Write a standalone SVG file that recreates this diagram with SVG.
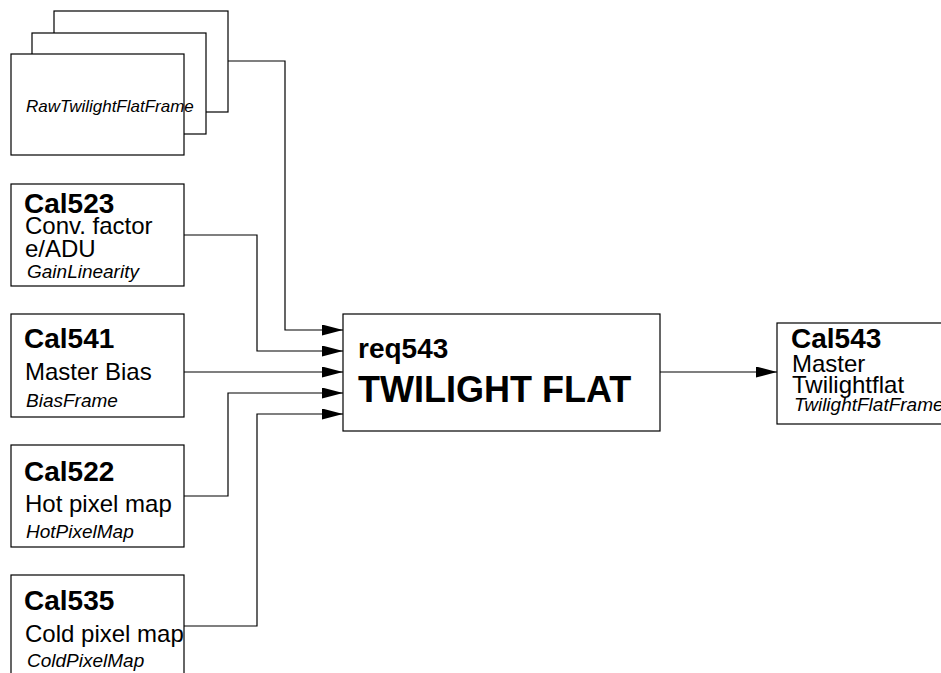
<svg xmlns="http://www.w3.org/2000/svg" width="941" height="673" viewBox="0 0 941 673">
<style>
.box{fill:#fff;stroke:#000;stroke-width:1.2}
.conn{fill:none;stroke:#000;stroke-width:1.2}
.b{font-family:"Liberation Sans",Arial,sans-serif;font-weight:bold;font-size:28px;fill:#000}
.r{font-family:"Liberation Sans",Arial,sans-serif;font-size:24px;fill:#000}
.i{font-family:"Liberation Sans",Arial,sans-serif;font-style:italic;font-size:19px;fill:#000}
</style>
<defs>
<marker id="arr" markerUnits="userSpaceOnUse" markerWidth="22" markerHeight="12" refX="21" refY="5.5" orient="auto">
<path d="M0,0 L21,5.5 L0,11 z" fill="#000"/>
</marker>
</defs>
<rect width="941" height="673" fill="#fff"/>
<g id="connectors">
<polyline class="conn" points="228,61 285,61 285,330 343,330" marker-end="url(#arr)"/>
<polyline class="conn" points="184,235 257,235 257,351 343,351" marker-end="url(#arr)"/>
<polyline class="conn" points="184,372 343,372" marker-end="url(#arr)"/>
<polyline class="conn" points="184,496 228,496 228,393 343,393" marker-end="url(#arr)"/>
<polyline class="conn" points="184,626 257,626 257,414 343,414" marker-end="url(#arr)"/>
<polyline class="conn" points="660,372 777,372" marker-end="url(#arr)"/>
</g>
<g id="RawTwilightFlatFrame">
<rect class="box" x="54" y="11" width="174" height="101"/>
<rect class="box" x="32" y="33" width="174" height="101"/>
<rect class="box" x="11" y="54" width="173" height="101"/>
<text class="i" x="26" y="112" style="font-size:17px">RawTwilightFlatFrame</text>
</g>
<g id="Cal523">
<rect class="box" x="11" y="184" width="173" height="102"/>
<text class="b" x="24" y="213">Cal523</text>
<text class="r" x="25" y="234">Conv. factor</text>
<text class="r" x="25" y="257">e/ADU</text>
<text class="i" x="27" y="278">GainLinearity</text>
</g>
<g id="Cal541">
<rect class="box" x="11" y="314" width="173" height="103"/>
<text class="b" x="24" y="348">Cal541</text>
<text class="r" x="25" y="380">Master Bias</text>
<text class="i" x="26" y="407">BiasFrame</text>
</g>
<g id="Cal522">
<rect class="box" x="11" y="445" width="173" height="102"/>
<text class="b" x="24" y="481">Cal522</text>
<text class="r" x="25" y="512">Hot pixel map</text>
<text class="i" x="26" y="538">HotPixelMap</text>
</g>
<g id="Cal535">
<rect class="box" x="11" y="575" width="173" height="110"/>
<text class="b" x="24" y="610">Cal535</text>
<text class="r" x="25" y="642">Cold pixel map</text>
<text class="i" x="27" y="667">ColdPixelMap</text>
</g>
<g id="req543">
<rect class="box" x="343" y="314" width="317" height="117"/>
<text class="b" x="358" y="358">req543</text>
<text class="b" x="358" y="402" style="font-size:36px">TWILIGHT FLAT</text>
</g>
<g id="Cal543">
<rect class="box" x="777" y="323" width="190" height="101"/>
<text class="b" x="791" y="348">Cal543</text>
<text class="r" x="792" y="372">Master</text>
<text class="r" x="792" y="393">Twilightflat</text>
<text class="i" x="794" y="411">TwilightFlatFrame</text>
</g>
</svg>
